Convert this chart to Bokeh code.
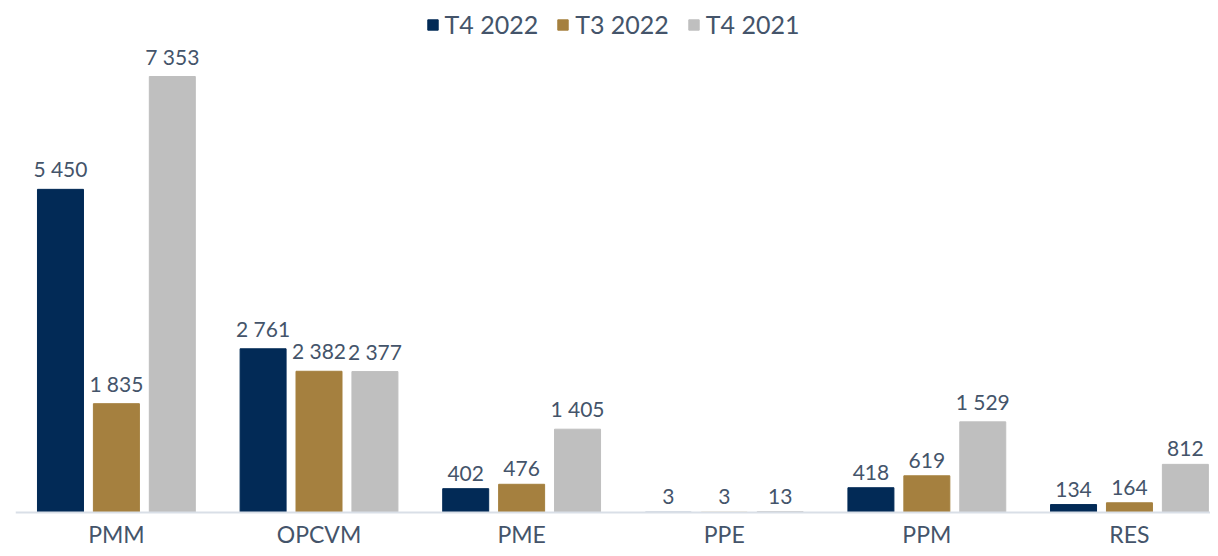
from bokeh.plotting import figure
from bokeh.models import ColumnDataSource, Range1d, Span
from bokeh.core.properties import value
from bokeh.embed import file_html
from bokeh.resources import INLINE

categories = ["PMM", "OPCVM", "PME", "PPE", "PPM", "RES"]
series_names = ["T4 2022", "T3 2022", "T4 2021"]
t4_2022 = [5450, 2761, 402, 3, 418, 134]
t3_2022 = [1835, 2382, 476, 3, 619, 164]
t4_2021 = [7353, 2377, 1405, 13, 1529, 812]
colors = ["#022A56", "#A5803F", "#BFBFBF"]

FONT = "Lato"
TXT = "#44546A"

def fmt(v):
    return f"{v:,}".replace(",", "\u202f")

p = figure(width=1210, height=548, output_backend="svg", toolbar_location=None,
           x_range=Range1d(-0.498, 5.400), y_range=Range1d(-607, 8635),
           min_border_left=15, min_border_right=0, min_border_top=0, min_border_bottom=0)

offsets = [-0.276, 0.0, 0.276]
for vals, name, col, off in zip([t4_2022, t3_2022, t4_2021], series_names, colors, offsets):
    xs = [i + off for i in range(len(categories))]
    src = ColumnDataSource(dict(x=xs, top=vals, lab=[fmt(v) for v in vals]))
    p.vbar(x="x", top="top", bottom=0, width=0.227, color=col, source=src, legend_label=name)
    p.text(x="x", y="top", text="lab", source=src, text_align="center",
           text_baseline="bottom", y_offset=-8, text_font=value(FONT),
           text_font_size="21px", text_color=TXT)

# category axis (baseline + labels)
p.add_layout(Span(location=0, dimension="width", line_color="#D9DFE7", line_width=2))
cat_src = ColumnDataSource(dict(x=list(range(len(categories))), y=[0] * len(categories), c=categories))
p.text(x="x", y="y", text="c", source=cat_src, text_align="center", text_baseline="middle",
       y_offset=21, text_font=value(FONT), text_font_size="23px", text_color=TXT)

p.xaxis.visible = False
p.yaxis.visible = False
p.xgrid.visible = False
p.ygrid.visible = False
p.outline_line_color = None

leg = p.legend[0]
leg.location = "top_center"
leg.orientation = "horizontal"
leg.border_line_color = None
leg.background_fill_alpha = 0
leg.label_text_font = FONT
leg.label_text_font_size = "25px"
leg.label_text_color = TXT
leg.glyph_width = 13
leg.glyph_height = 13
leg.label_standoff = 6
leg.spacing = 18
leg.margin = 9
leg.padding = 4

open("out.html", "w").write(file_html(p, INLINE))
